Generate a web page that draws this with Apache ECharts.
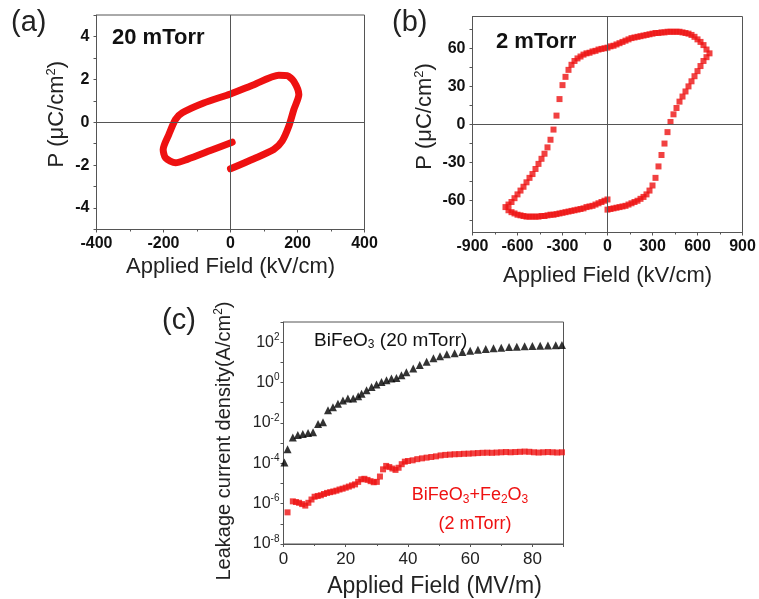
<!DOCTYPE html>
<html><head><meta charset="utf-8">
<script src="https://cdn.jsdelivr.net/npm/echarts@6/dist/echarts.min.js"></script>
<style>html,body{margin:0;padding:0;background:#fff}#c{width:759px;height:599px}</style>
</head><body><div id="c"></div>
<script>
// ---------- Panel (a): 20 mTorr P-E loop ----------
const aE = [0, 70, 129, 154, 174, 189, 204, 189, 169, 144, 70, 0, -80, -144, -164, -184, -201, -194, -164, -129, -60, 5];
const aP = [-2.17, -1.70, -1.27, -0.88, -0.19, 0.59, 1.29, 1.91, 2.17, 2.19, 1.75, 1.32, 0.90, 0.44, 0.13, -0.57, -1.27, -1.66, -1.89, -1.73, -1.32, -0.93];
const aXTicks = [-400, -200, 0, 200, 400];
const aYTicks = [-4, -2, 0, 2, 4];

// ---------- Panel (b): 2 mTorr P-E loop ----------
const bRightE = [0,20,40,60,80,100,120,140,160,180,200,220,240,260,280,300,320,340,360,380,400,420,440,460,480,500,520,540,560,580,600,620,640,660,680];
const bRightP = [-67,-66.5,-66,-65.5,-65,-64.5,-64,-63,-62,-61,-60,-58.5,-57,-55,-52,-48,-42,-33,-24,-15,-6,2,8,13,18,22,26,30,34,38,42,46,50,53,56];
const bTopE = [660,640,620,600,580,560,540,520,500,480,460,440,420,400,380,360,340,320,300,280,260,240,220,200,180,160,140,120,100,80,60,40,20,0];
const bTopP = [59,62.5,65,67,69,70.5,71.5,72,72.5,73,73,73,73,73,72.5,72.5,72,72,71.5,71,70.5,70,69.5,69,68.5,68,67,66,65,64,63,62,61.5,60.5];
const bLeftE = [-20,-40,-60,-80,-100,-120,-140,-160,-180,-200,-220,-240,-260,-280,-300,-320,-340,-360,-380,-400,-420,-440,-460,-480,-500,-520,-540,-560,-580,-600,-620,-640,-660,-680];
const bLeftP = [60,59.5,59,58,57.5,56.5,56,55,53.5,52,50,47,43,37.5,31,20,7,-4,-12,-18,-23,-27,-31,-35,-39,-42,-45.5,-49,-52,-55,-58,-61,-63,-65];
const bBottomE = [-660,-640,-620,-600,-580,-560,-540,-520,-500,-480,-460,-440,-420,-400,-380,-360,-340,-320,-300,-280,-260,-240,-220,-200,-180,-160,-140,-120,-100,-80,-60,-40,-20,0];
const bBottomP = [-67.5,-69,-70,-71,-71.5,-72,-72.5,-72.5,-72.5,-72.5,-72.5,-72,-72,-71.5,-71,-71,-70.5,-70,-69.5,-69,-68.5,-68,-67.5,-67,-66.5,-66,-65,-64.5,-64,-63,-62,-61,-60,-59];
const bXTicks = [-900, -600, -300, 0, 300, 600, 900];
const bYTicks = [-60, -30, 0, 30, 60];
const bYMinor = [-75, -60, -45, -30, -15, 0, 15, 30, 45, 60, 75];

// ---------- Panel (c): leakage current ----------
const cBlackE = [0.3,1.3,3.0,4.6,6.2,7.9,9.5,11.1,12.7,14.3,15.9,17.5,19.1,20.7,22.4,24.0,25.1,26.7,28.3,29.9,31.5,33.1,34.7,36.3,37.9,39.5,41.7,43.8,46.0,48.2,50.3,52.5,55.0,57.5,60.0,62.5,65.0,67.5,70.0,72.5,75.0,77.5,80.0,82.5,85.0,87.5,89.5];
const cBlackJ = [1.1e-4,5e-4,1.9e-3,2.5e-3,2.8e-3,3.2e-3,3.4e-3,8.9e-3,1.07e-2,4.2e-2,6e-2,8.9e-2,0.13,0.16,0.16,0.21,0.28,0.42,0.6,0.8,1.07,1.3,1.6,1.7,2.3,3.2,5,7.4,10.7,15.8,20,25,28,33,38,42,46,50,53,57,60,63,65,67,69,71,72];
const cRedE = [1.3,3,4,5,6,7,8,9,10,11,12,13,14,15,16,17,18,19,20,21,22,23,24,25,26,27,28,29,30,31,32,33,34,35,36,37,38,39,40,41.5,43,44.5,46,47.5,49,50.5,52,53.5,55,56.5,58,59.5,61,62.5,64,65.5,67,68.5,70,71.5,73,74.5,76,77.5,79,80.5,82,83.5,85,86.5,88,89.5];
const cRedJ = [3.7e-7,1.3e-6,1.2e-6,1.1e-6,9.5e-7,8e-7,1.1e-6,1.6e-6,2.2e-6,2.4e-6,2.6e-6,3e-6,3.4e-6,3.7e-6,4e-6,4.4e-6,5e-6,5.5e-6,6.2e-6,7e-6,8e-6,9e-6,1.2e-5,1.6e-5,1.7e-5,1.5e-5,1.3e-5,1.15e-5,1.2e-5,2.2e-5,5e-5,7.4e-5,6.5e-5,5.5e-5,4.7e-5,6e-5,9e-5,1.2e-4,1.3e-4,1.4e-4,1.6e-4,1.75e-4,1.9e-4,2.05e-4,2.2e-4,2.45e-4,2.6e-4,2.7e-4,2.8e-4,2.85e-4,2.95e-4,3e-4,3.1e-4,3.2e-4,3.3e-4,3.35e-4,3.3e-4,3.4e-4,3.5e-4,3.6e-4,3.5e-4,3.6e-4,3.7e-4,3.8e-4,3.7e-4,3.5e-4,3.4e-4,3.5e-4,3.6e-4,3.5e-4,3.4e-4,3.5e-4];
const cXTicks = [0, 20, 40, 60, 80];

// ---------- helpers ----------
const FONT = 'Arial, "Liberation Sans", Helvetica, sans-serif';
const RED = '#ee1111';
const AX = '#555';
const zip = (a, b) => a.map((v, i) => [v, b[i]]);
const aData = zip(aE, aP);
const bData = [].concat(zip(bRightE, bRightP), zip(bTopE, bTopP), zip(bLeftE, bLeftP), zip(bBottomE, bBottomP));
const cBlack = zip(cBlackE, cBlackJ);
const cRed = zip(cRedE, cRedJ);

const supRich = {
  n: {fontFamily: FONT, fontSize: 22, color: '#222'},
  s: {fontFamily: FONT, fontSize: 13, color: '#222', padding: [0, 0, 12, 0]}
};

function boldLabel() {
  return {color: '#111', fontFamily: FONT, fontWeight: 'bold', fontSize: 16};
}
function baseAxis() {
  return {
    axisLine: {show: true, onZero: false, lineStyle: {color: AX, width: 1}},
    axisTick: {show: true, inside: false, length: 3, lineStyle: {color: AX}},
    splitLine: {show: false},
  };
}

const chart = echarts.init(document.getElementById('c'), null, {renderer: 'canvas'});
const option = {
  animation: false,
  backgroundColor: '#fff',
  grid: [
    {left: 96.5, top: 15, width: 268, height: 214.5, show: true, borderColor: AX, borderWidth: 1, containLabel: false},
    {left: 472.5, top: 16.5, width: 270, height: 216, show: true, borderColor: AX, borderWidth: 1, containLabel: false},
    {left: 283.5, top: 322, width: 280, height: 222, show: true, borderColor: AX, borderWidth: 1, containLabel: false}
  ],
  xAxis: [
    Object.assign(baseAxis(), {
      gridIndex: 0, type: 'value', min: -400, max: 400, interval: 200,
      minorTick: {show: true, splitNumber: 2, length: 2, lineStyle: {color: AX}},
      axisLabel: Object.assign(boldLabel(), {margin: 6, customValues: aXTicks}),
      name: 'Applied Field (kV/cm)', nameLocation: 'middle', nameGap: 26,
      nameTextStyle: {fontFamily: FONT, fontSize: 22, color: '#222'}
    }),
    Object.assign(baseAxis(), {
      gridIndex: 1, type: 'value', min: -900, max: 900, interval: 300,
      minorTick: {show: true, splitNumber: 2, length: 2, lineStyle: {color: AX}},
      axisLabel: Object.assign(boldLabel(), {margin: 6, customValues: bXTicks}),
      name: 'Applied Field (kV/cm)', nameLocation: 'middle', nameGap: 32,
      nameTextStyle: {fontFamily: FONT, fontSize: 22, color: '#222'}
    }),
    Object.assign(baseAxis(), {
      gridIndex: 2, type: 'value', min: 0, max: 90, interval: 20,
      minorTick: {show: true, splitNumber: 2, length: 2, lineStyle: {color: AX}},
      axisLabel: {color: '#222', fontFamily: FONT, fontSize: 17, margin: 7, customValues: cXTicks},
      name: 'Applied Field (MV/m)', nameLocation: 'middle', nameGap: 31,
      nameTextStyle: {fontFamily: FONT, fontSize: 23, color: '#222', padding: [0, 0, 0, 22]}
    })
  ],
  yAxis: [
    Object.assign(baseAxis(), {
      gridIndex: 0, type: 'value', min: -5, max: 5, interval: 1,
      axisLabel: Object.assign(boldLabel(), {margin: 7, customValues: aYTicks}),
      name: '{n|P (μC/cm}{s|2}{n|)}', nameLocation: 'middle', nameGap: 27, nameRotate: 90,
      nameTextStyle: {rich: supRich, padding: [0, 0, 0, 16]}
    }),
    Object.assign(baseAxis(), {
      gridIndex: 1, type: 'value', min: -85, max: 85,
      axisTick: {show: true, length: 3, lineStyle: {color: AX}, customValues: bYMinor},
      axisLabel: Object.assign(boldLabel(), {margin: 7, customValues: bYTicks}),
      name: '{n|P (μC/cm}{s|2}{n|)}', nameLocation: 'middle', nameGap: 35, nameRotate: 90,
      nameTextStyle: {rich: supRich, padding: [0, 0, 0, 16]}
    }),
    Object.assign(baseAxis(), {
      gridIndex: 2, type: 'log', logBase: 10, min: 1e-8, max: 1e3, interval: 1,
      axisLabel: {
        margin: 4,
        formatter: function (v) {
          const e = Math.round(Math.log10(v));
          if (e % 2 !== 0) return '';
          return '{n|10}{s|' + e + '}';
        },
        rich: {
          n: {fontFamily: FONT, fontSize: 16, color: '#222'},
          s: {fontFamily: FONT, fontSize: 10, color: '#222', padding: [0, 0, 10, 0]}
        }
      },
      name: '{n|Leakage current density(A/cm}{s|2}{n|)}', nameLocation: 'middle', nameGap: 48, nameRotate: 90,
      nameTextStyle: {
        padding: [0, 16, 0, 0],
        rich: {
          n: {fontFamily: FONT, fontSize: 20, color: '#222'},
          s: {fontFamily: FONT, fontSize: 12, color: '#222', padding: [0, 0, 11, 0]}
        }
      }
    })
  ],
  graphic: [
    {type: 'text', x: 11, y: 8, style: {text: '(a)', fill: '#222', fontFamily: FONT, fontSize: 29}},
    {type: 'text', x: 392, y: 8, style: {text: '(b)', fill: '#222', fontFamily: FONT, fontSize: 29}},
    {type: 'text', x: 162, y: 306, style: {text: '(c)', fill: '#222', fontFamily: FONT, fontSize: 29}},
    {type: 'text', x: 112, y: 27, style: {text: '20 mTorr', fill: '#111', fontFamily: FONT, fontSize: 22, fontWeight: 'bold'}},
    {type: 'text', x: 496, y: 31, style: {text: '2 mTorr', fill: '#111', fontFamily: FONT, fontSize: 22, fontWeight: 'bold'}},
    {type: 'text', x: 314, y: 330, style: {
      text: '{n|BiFeO}{s|3}{n| (20 mTorr)}',
      rich: {
        n: {fontFamily: FONT, fontSize: 19, fill: '#111', color: '#111'},
        s: {fontFamily: FONT, fontSize: 12, fill: '#111', color: '#111', padding: [9, 0, 0, 0]}
      }
    }},
    {type: 'text', x: 470, y: 485, style: {
      text: '{n|BiFeO}{s|3}{n|+Fe}{s|2}{n|O}{s|3}',
      align: 'center',
      rich: {
        n: {fontFamily: FONT, fontSize: 18, fill: RED, color: RED},
        s: {fontFamily: FONT, fontSize: 12, fill: RED, color: RED, padding: [9, 0, 0, 0]}
      }
    }},
    {type: 'text', x: 475, y: 515, style: {text: '(2 mTorr)', align: 'center', fill: RED, fontFamily: FONT, fontSize: 18}}
  ],
  series: [
    {type: 'scatter', xAxisIndex: 0, yAxisIndex: 0, data: [], z: 1, silent: true,
     markLine: {silent: true, symbol: 'none', label: {show: false}, animation: false,
       lineStyle: {color: AX, width: 1, type: 'solid'}, data: [{xAxis: 0}, {yAxis: 0}]}},
    {type: 'line', xAxisIndex: 0, yAxisIndex: 0, data: aData, showSymbol: false, smooth: 0.25, z: 3,
     lineStyle: {color: RED, width: 7, cap: 'round', join: 'round'}},
    {type: 'scatter', xAxisIndex: 1, yAxisIndex: 1, data: [], z: 1, silent: true,
     markLine: {silent: true, symbol: 'none', label: {show: false}, animation: false,
       lineStyle: {color: AX, width: 1, type: 'solid'}, data: [{xAxis: 0}, {yAxis: 0}]}},
    {type: 'scatter', xAxisIndex: 1, yAxisIndex: 1, data: bData, symbol: 'rect', symbolSize: 6, z: 3,
     itemStyle: {color: RED}},
    {type: 'scatter', xAxisIndex: 2, yAxisIndex: 2, data: cBlack, symbol: 'triangle', symbolSize: 8, z: 3,
     itemStyle: {color: '#000'}},
    {type: 'scatter', xAxisIndex: 2, yAxisIndex: 2, data: cRed, symbol: 'rect', symbolSize: 6, z: 3,
     itemStyle: {color: RED}}
  ]
};
chart.setOption(option);
</script>
</body></html>
